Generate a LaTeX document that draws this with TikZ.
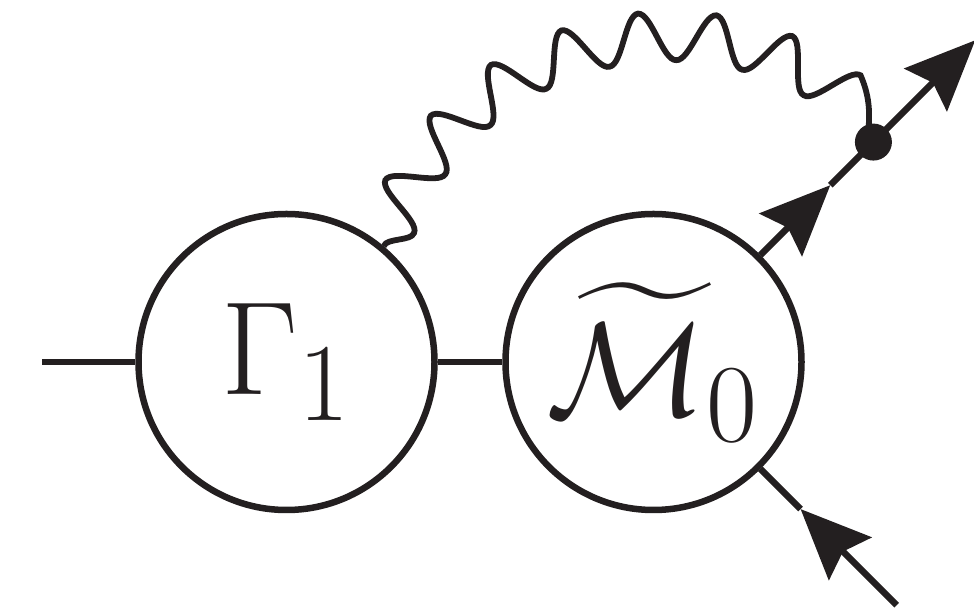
\documentclass[tikz,border=0pt]{standalone}
\usepackage{amsmath}
\usepackage{graphicx}
\usetikzlibrary{arrows.meta,decorations.pathmorphing,calc}
\definecolor{ink}{RGB}{35,31,32}
\begin{document}
\begin{tikzpicture}[x=1pt,y=1pt,line width=6.5pt,ink,
  blob/.style={circle,draw,minimum size=296pt,inner sep=0pt,font=\Huge},
  tip/.style={-{Stealth[length=70pt,width=60pt,inset=10pt]}},
  dot/.style={circle,fill,minimum size=37pt,inner sep=0pt},
  photon/.style={line width=5.8pt,decorate,decoration={snake,mirror,amplitude=24pt,segment length=72.8pt}}]
\useasboundingbox (0,0) rectangle (974,609);
\node[blob] (G) at (286.5,247) {\scalebox{5.35}{$\Gamma_1$}};
\node[blob] (M) at (653.5,247) {\scalebox{5.35}{$\widetilde{\mathcal{M}}_0$}};
\coordinate (L0) at (42,247);
\draw (L0) -- (G.west);
\draw (G.east) -- (M.west);
\coordinate (E) at ($(M.center)+(45:455)$);
\coordinate (T1) at ($(M.center)+(45:250)$);
\coordinate (Dc) at ($(M.center)+(45:311)$);
\draw[tip] (M.45) -- (T1);
\draw[tip] (T1) -- (E);
\coordinate (F) at ($(M.center)+(-45:344)$);
\coordinate (T2) at ($(M.center)+(-45:208)$);
\draw[tip] (F) -- (T2);
\draw (T2) -- (M.-45);
\draw[photon] (G.50) to[bend left=58,looseness=1.1] (Dc);
\node[dot] (D) at (Dc) {};
\end{tikzpicture}
\end{document}
